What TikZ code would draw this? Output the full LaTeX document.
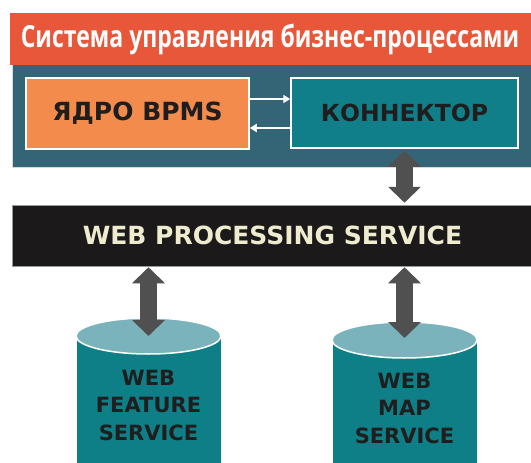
\documentclass[tikz,border=0pt]{standalone}
\usepackage{fontspec}
\usetikzlibrary{arrows.meta,calc}
\newfontfamily\headfont[FakeStretch=0.755]{Open Sans}
\newfontfamily\techfont{DejaVu Sans}
\definecolor{hdrorange}{HTML}{E9573A}
\definecolor{panelblue}{HTML}{336577}
\definecolor{coreorange}{HTML}{F38B4C}
\definecolor{connteal}{HTML}{117F89}
\definecolor{cylbody}{HTML}{0F7F87}
\definecolor{cyltop}{HTML}{7AB3BB}
\definecolor{arrgray}{HTML}{505050}
\definecolor{barblack}{HTML}{1B1919}
\definecolor{bartext}{HTML}{EEEBCF}
\definecolor{darktext}{HTML}{1E1E1E}
\tikzset{
  boxstyle/.style={draw=white, line width=1.5pt, inner sep=0pt},
  bigarrow/.style={draw=arrgray, line width=17pt,
    {Triangle[width=32pt,length=16pt]}-{Triangle[width=32pt,length=16pt]}},
  smallarrow/.style={draw=white, line width=2pt, -{Triangle[width=8pt,length=7pt]}},
  techtext/.style={font=\techfont\bfseries, text=darktext},
}
\begin{document}
\begin{tikzpicture}[x=1pt,y=-1pt]
\useasboundingbox (0,0) rectangle (531,463);
\begin{scope}
\clip (0,0) rectangle (531,463);
% top panel
\node[fill=panelblue, draw=black!15, line width=0.6pt, minimum width=521pt, minimum height=103pt, inner sep=0pt] (panel) at (272.5,116) {};
\node[fill=hdrorange, minimum width=521pt, minimum height=52pt, inner sep=0pt,
  font=\headfont\bfseries\fontsize{30.5}{30.5}\selectfont, text=white] (hdr) at (270,39) {Система управления бизнес-процессами};
\node[boxstyle, fill=coreorange, minimum width=223pt, minimum height=71pt, techtext, font=\techfont\bfseries\fontsize{25}{25}\selectfont] (core) at (137.5,113.5) {ЯДРО BPMS};
\node[boxstyle, fill=connteal, minimum width=227pt, minimum height=70pt, techtext, font=\techfont\bfseries\fontsize{23.5}{23.5}\selectfont] (conn) at (404.5,113) {КОННЕКТОР};
\draw[smallarrow] ([yshift=14.5pt]core.east) -- ([yshift=14pt]conn.west);
\draw[smallarrow] ([yshift=-15pt]conn.west) -- ([yshift=-14.5pt]core.east);
% WPS bar
\node[fill=barblack, draw=black!40, line width=0.5pt, minimum width=521pt, minimum height=61pt, inner sep=0pt,
  font=\techfont\bfseries\fontsize{25}{25}\selectfont, text=bartext] (wps) at (272.5,235.5) {WEB PROCESSING SERVICE};
% cylinders
\fill[cylbody] (76,336) rectangle (221,480);
\draw[white, line width=1pt] (76,336) -- (76,480) (221,336) -- (221,480);
\filldraw[fill=cyltop, draw=white, line width=1.5pt] (148.5,336) ellipse [x radius=72.5pt, y radius=18pt];
\coordinate (cylA) at (148.5,336);
\node[techtext, font=\techfont\bfseries\fontsize{21}{27.5}\selectfont, align=center] (cylAtext) at (148.5,405) {WEB\\FEATURE\\SERVICE};
\fill[cylbody] (332,340) rectangle (477,480);
\draw[white, line width=1pt] (332,340) -- (332,480) (477,340) -- (477,480);
\filldraw[fill=cyltop, draw=white, line width=1.5pt] (404.5,340) ellipse [x radius=72.5pt, y radius=18pt];
\coordinate (cylB) at (404.5,338);
\node[techtext, font=\techfont\bfseries\fontsize{21}{27.5}\selectfont, align=center] (cylBtext) at (404.5,408) {WEB\\MAP\\SERVICE};
% big arrows
\draw[bigarrow] ([yshift=-2pt]conn.south) -- ([yshift=2pt]conn.south |- wps.north);
\draw[bigarrow] ([yshift=-1pt]wps.south -| cylA) -- (cylA);
\draw[bigarrow] ([yshift=-1pt]wps.south -| cylB) -- (cylB);
\end{scope}
\end{tikzpicture}
\end{document}
